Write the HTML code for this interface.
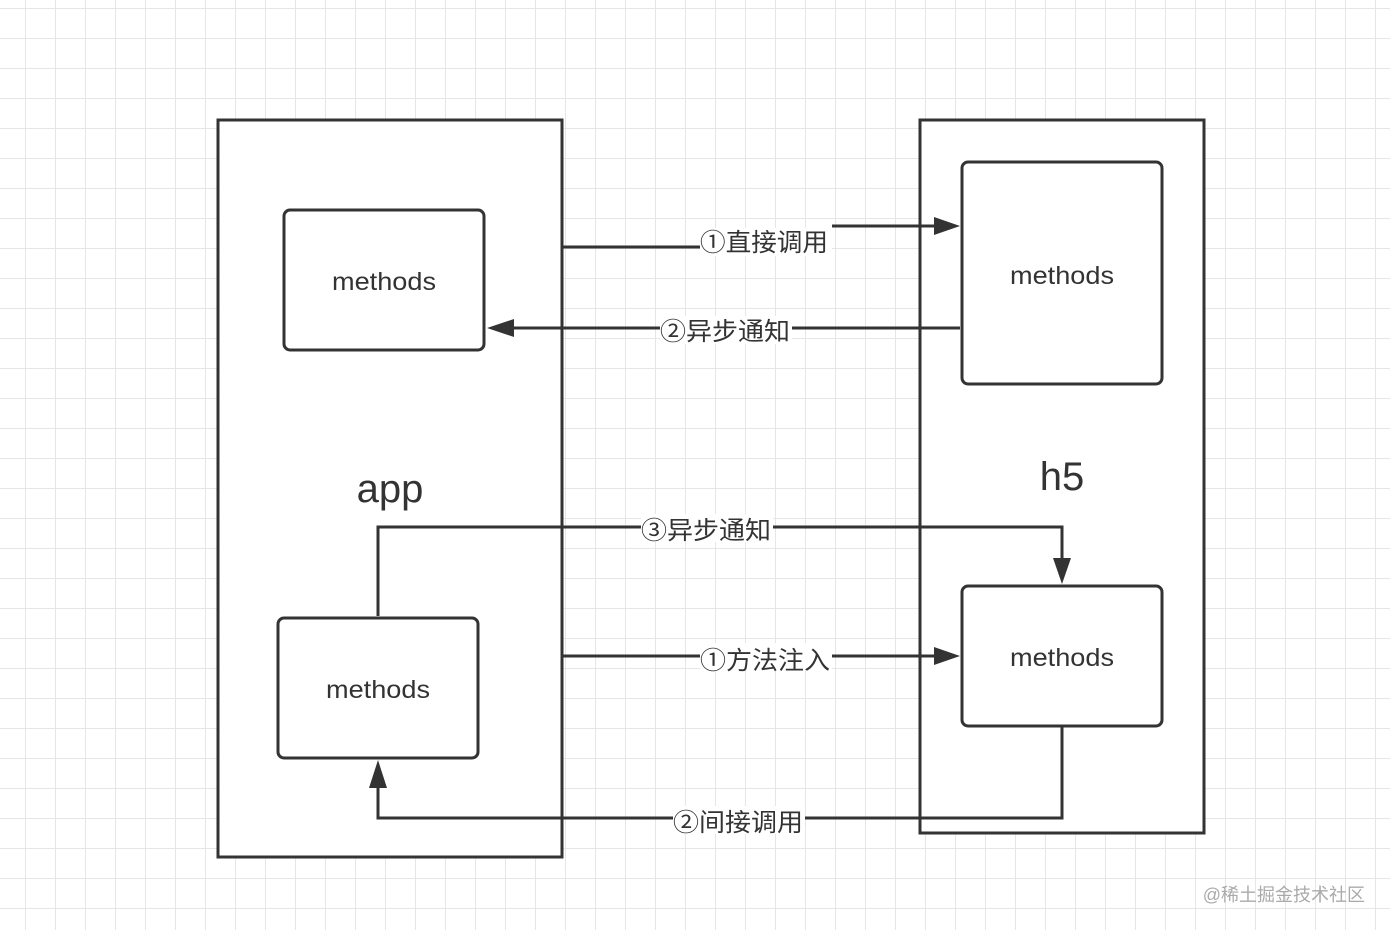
<!DOCTYPE html>
<html><head><meta charset="utf-8"><style>
html,body{margin:0;padding:0;background:#fff;}
svg{display:block;}
text{font-family:"Liberation Sans","Noto Sans CJK SC",sans-serif;fill:#333;}
</style></head><body>
<svg width="1390" height="930" viewBox="0 0 1390 930" xmlns="http://www.w3.org/2000/svg">
<defs>
<pattern id="g" x="25" y="8" width="30" height="30" patternUnits="userSpaceOnUse">
<path d="M0 0H30M0 0V30" stroke="#e6e6e6" stroke-width="2" fill="none"/>
</pattern>
</defs>
<rect width="1390" height="930" fill="url(#g)"/>
<g stroke="#333" stroke-width="3" fill="#fff">
<rect x="218" y="120" width="344" height="737"/>
<rect x="920" y="120" width="284" height="713"/>
<rect x="284" y="210" width="200" height="140" rx="6"/>
<rect x="278" y="618" width="200" height="140" rx="6"/>
<rect x="962" y="162" width="200" height="222" rx="6"/>
<rect x="962" y="586" width="200" height="140" rx="6"/>
</g>
<g stroke="#333" stroke-width="3" fill="none">
<path d="M563 247H700"/>
<path d="M832 226H934"/>
<path d="M960 328H514"/>
<path d="M378 616V527H1062V558"/>
<path d="M563 656H934"/>
<path d="M1062 727V818H378V788"/>
</g>
<g fill="#333">
<path d="M960 226L934 217V235Z"/>
<path d="M487 328L514 319V337Z"/>
<path d="M1062 584L1053 558H1071Z"/>
<path d="M960 656L934 647V665Z"/>
<path d="M378 760L369 788H387Z"/>
</g>
<g fill="#fff">
<rect x="700" y="228" width="132" height="28"/>
<rect x="660" y="316" width="132" height="28"/>
<rect x="641" y="514" width="132" height="28"/>
<rect x="700" y="643" width="132" height="28"/>
<rect x="673" y="806" width="132" height="28"/>
</g>
<g font-size="25">
<text x="700" y="251" textLength="128" lengthAdjust="spacingAndGlyphs">①直接调用</text>
<text x="660" y="340" textLength="130" lengthAdjust="spacingAndGlyphs">②异步通知</text>
<text x="641" y="539" textLength="130" lengthAdjust="spacingAndGlyphs">③异步通知</text>
<text x="700" y="669" textLength="130" lengthAdjust="spacingAndGlyphs">①方法注入</text>
<text x="673" y="831" textLength="130" lengthAdjust="spacingAndGlyphs">②间接调用</text>
</g>
<g font-size="25" text-anchor="middle">
<text x="384" y="290" textLength="104" lengthAdjust="spacingAndGlyphs">methods</text>
<text x="378" y="698" textLength="104" lengthAdjust="spacingAndGlyphs">methods</text>
<text x="1062" y="284" textLength="104" lengthAdjust="spacingAndGlyphs">methods</text>
<text x="1062" y="666" textLength="104" lengthAdjust="spacingAndGlyphs">methods</text>
</g>
<text x="390" y="502" font-size="40" text-anchor="middle">app</text>
<text x="1062" y="490" font-size="40" text-anchor="middle">h5</text>
<text x="1365" y="901" font-size="18" text-anchor="end" style="fill:#aaa">@稀土掘金技术社区</text>
</svg>
</body></html>
